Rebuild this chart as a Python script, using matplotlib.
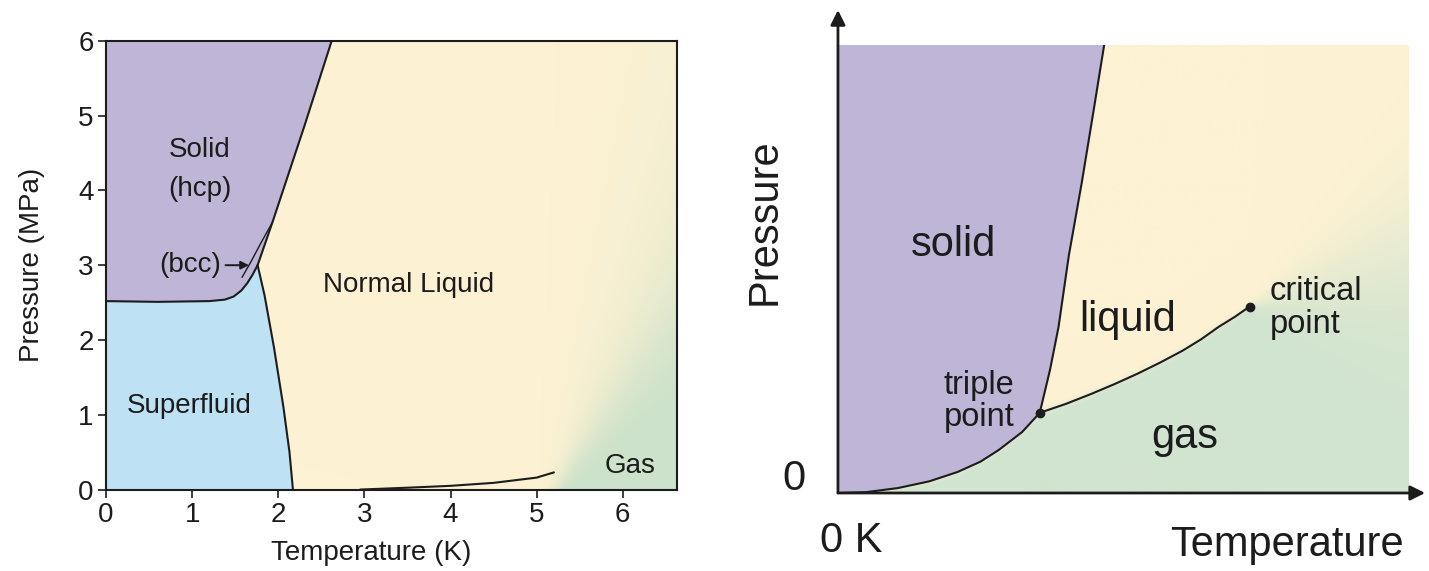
import numpy as np
import matplotlib.pyplot as plt
from matplotlib.colors import to_rgb

plt.rcParams['font.family'] = ['Liberation Sans', 'DejaVu Sans']

# ---- left panel: helium-4 phase diagram (T in K, P in MPa) ----
hcp_T = [0.0, 0.6, 1.2, 1.38, 1.48, 1.57, 1.64, 1.70, 1.76]
hcp_P = [2.52, 2.51, 2.52, 2.54, 2.58, 2.66, 2.76, 2.87, 3.00]
melt_T = [1.76, 1.94, 2.30, 2.62]
melt_P = [3.00, 3.60, 4.85, 6.00]
bcc_T = [1.58, 1.68, 1.79, 1.93]
bcc_P = [2.84, 3.04, 3.28, 3.57]
lam_T = [1.76, 1.84, 1.95, 2.06, 2.13, 2.17]
lam_P = [3.00, 2.60, 1.90, 1.10, 0.50, 0.00]
vap_T = [2.95, 3.5, 4.0, 4.5, 5.0, 5.2]
vap_P = [0.0, 0.025, 0.05, 0.09, 0.16, 0.23]
t_ticks = [0, 1, 2, 3, 4, 5, 6]
p_ticks = [0, 1, 2, 3, 4, 5, 6]

# ---- right panel: generic diagram (arbitrary units) ----
sub_x = [0.0, 0.05, 0.105, 0.16, 0.21, 0.25, 0.282, 0.323, 0.354]
sub_y = [0.0, 0.002, 0.011, 0.026, 0.047, 0.070, 0.096, 0.136, 0.179]
fus_x = [0.354, 0.372, 0.387, 0.405, 0.428, 0.448, 0.467]
fus_y = [0.179, 0.275, 0.371, 0.530, 0.695, 0.850, 1.0]
boil_x = [0.354, 0.400, 0.444, 0.485, 0.525, 0.565, 0.605, 0.637, 0.668, 0.696, 0.722]
boil_y = [0.179, 0.199, 0.221, 0.243, 0.266, 0.291, 0.318, 0.343, 0.371, 0.393, 0.416]

purple = '#bfb6d7'
blue = '#bee2f4'
cream = '#fdf2d3'
green = '#cde2ca'
ink = '#1c1c1c'

fig = plt.figure(figsize=(14.29, 5.71), dpi=100)

# ================= left =================
ax = fig.add_axes([0.0742, 0.1426, 0.3996, 0.7859])
tmax, pmax = 6.63, 6.0
tt, pp = np.meshgrid(np.linspace(0, tmax, 400), np.linspace(0, pmax, 400))
tb = 5.2 + 0.5 * pp
w = 1 / (1 + np.exp(-(tt - tb) / (0.05 + 0.12 * pp)))
img = (1 - w[..., None]) * np.array(to_rgb(cream)) + w[..., None] * np.array(to_rgb(green))
ax.imshow(img, extent=[0, tmax, 0, pmax], origin='lower', aspect='auto',
          interpolation='bilinear', zorder=0)

# superfluid
ax.fill(np.r_[0, lam_T[::-1], hcp_T[::-1]], np.r_[0, lam_P[::-1], hcp_P[::-1]],
        color=blue, lw=0, zorder=1)
# solid
ax.fill(np.r_[hcp_T, melt_T[1:], 0], np.r_[hcp_P, melt_P[1:], pmax],
        color=purple, lw=0, zorder=1)

lk = dict(color=ink, lw=1.5, zorder=3, solid_capstyle='round',
          solid_joinstyle='round')
ax.plot(hcp_T, hcp_P, **lk)
ax.plot(melt_T, melt_P, **lk)
ax.plot(bcc_T, bcc_P, color=ink, lw=1.0, zorder=3)
ax.plot(lam_T, lam_P, **lk)
ax.plot(vap_T, vap_P, **lk)

ax.set_xlim(0, tmax)
ax.set_ylim(0, pmax)
ax.set_xticks(t_ticks)
ax.set_yticks(p_ticks)
ax.tick_params(direction='out', length=6, width=1.2, labelsize=20, pad=3,
               colors=ink)
for s in ax.spines.values():
    s.set_linewidth(1.5)
    s.set_color(ink)
ax.set_xlabel('Temperature (K)', fontsize=20, color=ink)
ax.xaxis.set_label_coords(0.465, -0.112)
ax.set_ylabel('Pressure (MPa)', fontsize=20, color=ink)
ax.yaxis.set_label_coords(-0.107, 0.5)

tk = dict(fontsize=20, color=ink, ha='center', va='center', zorder=4)
ax.text(1.09, 4.54, 'Solid', **tk)
ax.text(1.09, 4.02, '(hcp)', **tk)
ax.text(3.51, 2.73, 'Normal Liquid', **tk)
ax.text(0.97, 1.12, 'Superfluid', **tk)
ax.text(6.09, 0.32, 'Gas', **tk)
ax.annotate('(bcc)', xy=(1.66, 3.0), xytext=(0.98, 3.0), fontsize=20,
            color=ink, ha='center', va='center', zorder=4,
            arrowprops=dict(arrowstyle='-|>', color=ink, lw=1.4,
                            shrinkA=1, shrinkB=0, mutation_scale=12))

# ================= right =================
bx = fig.add_axes([0.5864, 0.1366, 0.3989, 0.7846])
xx, yy = np.meshgrid(np.linspace(0, 1, 500), np.linspace(0, 1, 500))
bnd_x = np.r_[sub_x, boil_x[1:]]
bnd_y = np.r_[sub_y, boil_y[1:]]
xc, yc = boil_x[-1], boil_y[-1]
yb = np.where(xx <= xc, np.interp(xx, bnd_x, bnd_y), yc + 0.45 * (xx - xc))
sw = np.where(xx <= xc, 0.004, 0.004 + 0.35 * (xx - xc))
w2 = 1 / (1 + np.exp(-(yb - yy) / sw))
img2 = (1 - w2[..., None]) * np.array(to_rgb(cream)) + w2[..., None] * np.array(to_rgb('#d1e4cf'))
bx.imshow(img2, extent=[0, 1, 0, 1], origin='lower', aspect='auto',
          interpolation='bilinear', zorder=0)

bx.fill(np.r_[sub_x, fus_x[1:], 0], np.r_[sub_y, fus_y[1:], 1],
        color=purple, lw=0, zorder=1)
bx.plot(sub_x, sub_y, **lk)
bx.plot(fus_x, fus_y, **lk)
bx.plot(boil_x, boil_y, **lk)
bx.plot([sub_x[-1], boil_x[-1]], [sub_y[-1], boil_y[-1]], 'o', color=ink,
        ms=6, zorder=4)

bx.set_xlim(0, 1)
bx.set_ylim(0, 1)
bx.axis('off')

ak = dict(arrowstyle='-|>', color=ink, lw=2, mutation_scale=22,
          shrinkA=0, shrinkB=0)
bx.annotate('', xy=(1.03, 0), xytext=(0, 0), arrowprops=ak,
            annotation_clip=False, zorder=5)
bx.annotate('', xy=(0, 1.078), xytext=(0, 0), arrowprops=ak,
            annotation_clip=False, zorder=5)

rk = dict(fontsize=30, color=ink, ha='center', va='center', zorder=4,
          clip_on=False)
bx.text(0.202, 0.554, 'solid', **rk)
bx.text(0.509, 0.387, 'liquid', **rk)
bx.text(0.609, 0.125, 'gas', **rk)
bx.text(-0.129, 0.606, 'Pressure', rotation=90, **rk)
bx.text(-0.077, 0.031, '0', **rk)
bx.text(0.024, -0.107, '0 K', **rk)
bx.text(0.993, -0.115, 'Temperature', fontsize=30, color=ink, ha='right',
        va='center', clip_on=False)
sk = dict(fontsize=23.5, color=ink, ha='left', va='center', linespacing=1.05,
          zorder=4)
bx.text(0.186, 0.205, 'triple\npoint', **sk)
bx.text(0.757, 0.413, 'critical\npoint', **sk)

fig.savefig('out.png', dpi=100, facecolor='white')
